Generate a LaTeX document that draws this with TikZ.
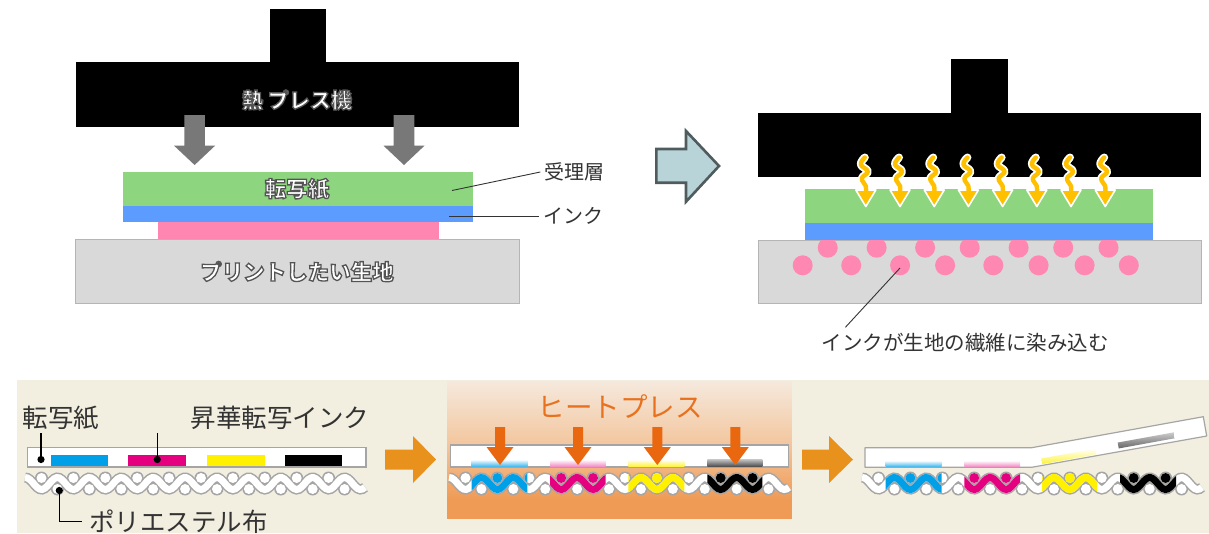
\documentclass[tikz,border=0pt]{standalone}
\usepackage{fontspec}
\setmainfont{Noto Sans CJK JP}
\usetikzlibrary{calc}

\definecolor{pressgray}{HTML}{787878}
\definecolor{papergreen}{HTML}{8DD67F}
\definecolor{inkblue}{HTML}{5C9CFF}
\definecolor{inkpink}{HTML}{FF86B0}
\definecolor{clothgray}{HTML}{D9D9D9}
\definecolor{clothedge}{HTML}{B5B5B5}
\definecolor{stepfill}{HTML}{B9D4D8}
\definecolor{stepedge}{HTML}{4F5B5C}
\definecolor{heatgold}{HTML}{FFC000}
\definecolor{dotpink}{HTML}{FF88B3}
\definecolor{panelbeige}{HTML}{F3EFE0}
\definecolor{flowarrow}{HTML}{E8911C}
\definecolor{pressorange}{HTML}{E8670F}
\definecolor{titleorange}{HTML}{E8711D}
\definecolor{peachtop}{HTML}{F5E9DD}
\definecolor{peachmid}{HTML}{F3C59C}
\definecolor{peachlow}{HTML}{EF9A55}
\definecolor{weavegray}{HTML}{A5A5A5}
\definecolor{cyanink}{HTML}{00A0E9}
\definecolor{magentaink}{HTML}{E4007F}
\definecolor{yellowink}{HTML}{FFF100}
\definecolor{labeltext}{HTML}{333333}

% white lettering with a thin dark outline (fill + stroke text mode)
\newcommand\outlined[1]{%
  \special{pdf:literal direct 2 Tr 1.3 w 0.33 0.33 0.33 RG}#1\special{pdf:literal direct 0 Tr}}

% woven polyester cloth: a wavy thread with round threads above and below
\newcommand\weaveband[4]{%
  \draw[#4] plot[domain=#1:#2, samples=140] (\x,{#3+6*cos(((\x-#1-16.5)/31.9)*360)});}
\newcommand\weavetop[4]{%
  \foreach \k in {0,...,9} \fill[#4] ({#1+16.5+31.9*\k},{#2-5.5}) circle[radius=#3];}
\newcommand\weavebot[4]{%
  \foreach \k in {0,...,9} \fill[#4] ({#1+32.45+31.9*\k},{#2+5.5}) circle[radius=#3];}
\newcommand\weave[3]{%
  \weaveband{#1}{#2}{#3}{draw=weavegray,line width=10}
  \weavetop{#1}{#3}{6.5}{weavegray}
  \weavebot{#1}{#3}{6.5}{weavegray}
  \weaveband{#1}{#2}{#3}{draw=white,line width=7}
  \weavetop{#1}{#3}{5}{white}
  \weavebot{#1}{#3}{5}{white}}
% dye taken up by the cloth between two x positions
\newcommand\weaveink[6]{%
  \begin{scope}
    \clip (#4,460) rectangle (#5,500);
    \weaveband{#1}{#2}{#3}{draw=#6,line width=7}
    \weavetop{#1}{#3}{5}{#6}
  \end{scope}}

\begin{document}
\begin{tikzpicture}[x=1pt,y=-1pt,
  leader/.style={draw=labeltext,line width=0.9pt},
  pointer/.style={draw=black,line width=1.5pt},
  boxlabel/.style={text=white,inner sep=0pt,font=\bfseries\fontsize{21.5}{24}\selectfont},
  sidelabel/.style={text=labeltext,inner sep=0pt,font=\fontsize{20}{24}\selectfont},
  notefont/.style={text=labeltext,inner sep=0pt,font=\fontsize{25.5}{28}\selectfont}]
\useasboundingbox (0,0) rectangle (1209,533);
\fill[white] (0,0) rectangle (1209,533);

% ---------- heat press, before pressing ----------
\fill[black] (269.6,9.3) rectangle (326.4,63);
\fill[black] (75.5,62) rectangle (519,127);
\foreach \cx in {194.6,404} {
  \fill[pressgray] (\cx-10.3,115) -- (\cx+10.3,115) -- (\cx+10.3,145.7) -- (\cx+20.5,145.7)
    -- (\cx,165) -- (\cx-20.5,145.7) -- (\cx-10.3,145.7) -- cycle;
}
\fill[papergreen] (123,171.7) rectangle (472.5,206);
\fill[inkblue] (123,206) rectangle (472.5,222.3);
\fill[inkpink] (158,222.3) rectangle (438.6,239);
\filldraw[fill=clothgray,draw=clothedge,line width=1pt] (75.5,239) rectangle (519,303);

\node[boxlabel,font=\bfseries\fontsize{21}{24}\selectfont] (presslabel) at (297,100) {\outlined{熱 プレス機}};
\node[boxlabel] (paperlabel) at (297,189) {\outlined{転写紙}};
\node[boxlabel] (clothlabel) at (297,271.5) {\outlined{プリントしたい生地}};

\coordinate (coatpt) at (452,190.5);
\coordinate (inkpt) at (449,216);
\node[sidelabel] (coatlabel) at (574.5,172) {受理層};
\node[sidelabel] (inklabel) at (573.5,216) {インク};
\draw[leader] (coatpt) -- ([xshift=-4pt]coatlabel.west);
\draw[leader] (inkpt) -- ([xshift=-4pt]inklabel.west);

% ---------- step arrow ----------
\filldraw[fill=stepfill,draw=stepedge,line width=2.6pt,line join=miter]
  (656.3,149) -- (686,149) -- (686,131) -- (719,166) -- (686,201.7) -- (686,182.7) -- (656.3,182.7) -- cycle;

% ---------- heat press, while pressing ----------
\fill[black] (950.9,59.3) rectangle (1007.7,113);
\fill[black] (758,112.7) rectangle (1201,177);
\filldraw[fill=clothgray,draw=clothedge,line width=1pt] (758.5,240) rectangle (1201,303.5);
\foreach \dx/\dy in {827.7/247.7,876.6/247.7,925.1/247.7,969.7/247.7,1018.6/247.7,1063.2/247.7,1108.5/247.7,
                     802.7/265.3,851.2/265.3,900.1/265.3,945.1/265.3,993.3/265.3,1038.6/265.3,1084.6/265.3,1128.8/265.3}
  \fill[dotpink] (\dx,\dy) circle[radius=10];
\fill[papergreen] (805.2,189.3) rectangle (1153.4,223.3);
\fill[inkblue] (805.2,223.3) rectangle (1153.4,240.2);

% heat waves
\foreach \k in {0,...,7} {
  \pgfmathsetmacro\cx{865.8+34.2*\k}
  \draw[white,line width=8pt,line cap=round,line join=round]
    plot[smooth,tension=0.7] coordinates {(\cx-1,157.5) (\cx-5,164.5) (\cx+2,171.5) (\cx-4,178.5) (\cx,186) (\cx,191)};
  \filldraw[fill=heatgold,draw=white,line width=1.6pt,line join=round]
    (\cx-10,190) -- (\cx+10,190) -- (\cx,206.5) -- cycle;
  \draw[heatgold,line width=4.4pt,line cap=round,line join=round]
    plot[smooth,tension=0.7] coordinates {(\cx-1,157.5) (\cx-5,164.5) (\cx+2,171.5) (\cx-4,178.5) (\cx,186) (\cx,192)};
}

\coordinate (soakpt) at (900,268);
\node[sidelabel,font=\fontsize{20.5}{24}\selectfont] (soaklabel) at (965,343) {インクが生地の繊維に染み込む};
\draw[leader] (soakpt) -- (845.4,327.3);

% ---------- sublimation strip ----------
\fill[panelbeige] (17,380) rectangle (1209,533);

% step 1: paper laid on the cloth
\filldraw[fill=white,draw=weavegray,line width=1.2pt] (27.7,447.7) rectangle (366,467);
\fill[cyanink] (50.7,455.3) rectangle (107.7,466.4);
\fill[magentaink] (127.7,455.3) rectangle (186,466.4);
\fill[yellowink] (206.7,455.3) rectangle (265.3,466.4);
\fill[black] (285.3,455.3) rectangle (342.3,466.4);
\weave{25}{365}{483.5}

\node[notefont] (paperlbl) at (61,418) {転写紙};
\node[notefont] (dyelbl) at (280,418) {昇華転写インク};
\node[notefont,anchor=west] (polylbl) at (89,521.5) {ポリエステル布};
\coordinate (paperdot) at (41,459.5);
\coordinate (dyedot) at (157.3,459.5);
\coordinate (polydot) at (59.3,490.5);
\draw[pointer] ([yshift=-3pt]paperdot |- paperlbl.south) -- (paperdot);
\fill (paperdot) circle[radius=3.6];
\draw[pointer] ([yshift=-3pt]dyedot |- dyelbl.south) -- (dyedot);
\fill (dyedot) circle[radius=3.6];
\draw[pointer] (polydot) -- (polydot |- polylbl.west) -- ([xshift=-7pt]polylbl.west);
\fill (polydot) circle[radius=3.6];

\fill[flowarrow] (385,449.5) -- (413,449.5) -- (413,436) -- (436,459.5) -- (413,483) -- (413,469.5) -- (385,469.5) -- cycle;

% step 2: heat press
\shade[top color=peachtop,bottom color=peachmid] (447,381) rectangle (791.5,446);
\shade[top color=peachmid,bottom color=peachlow] (447,445.5) rectangle (791.5,500);
\fill[peachlow] (447,499.5) rectangle (791.5,518.5);
\node[font=\fontsize{27.5}{30}\selectfont,text=titleorange,inner sep=0pt] (presstitle) at (620,406.5) {ヒートプレス};

\weave{449}{789}{483.5}
\weaveink{449}{789}{483.5}{471.7}{527.3}{cyanink}
\weaveink{449}{789}{483.5}{550}{605.7}{magentaink}
\weaveink{449}{789}{483.5}{628.3}{684.3}{yellowink}
\weaveink{449}{789}{483.5}{707.3}{762.3}{black}
\filldraw[fill=white,draw=weavegray,line width=1.2pt] (450.7,445) rectangle (788.3,467);
\shade[top color=white,bottom color=cyanink!75!white] (471.7,459.5) rectangle (527.3,466.4);
\shade[top color=white,bottom color=magentaink!45!white] (550,459.5) rectangle (605.7,466.4);
\shade[top color=white,bottom color=yellowink!80!white] (628.3,459.5) rectangle (684.3,466.4);
\shade[top color=black!25,bottom color=black!70] (707.3,459.5) rectangle (762.3,466.4);
\foreach \cx in {500,578,657.3,735.3} {
  \fill[pressorange] (\cx-5,427) -- (\cx+5,427) -- (\cx+5,447) -- (\cx+13.5,447) -- (\cx,465)
    -- (\cx-13.5,447) -- (\cx-5,447) -- cycle;
}

\fill[flowarrow] (802,449.5) -- (829,449.5) -- (829,436) -- (853,459.5) -- (829,483) -- (829,469.5) -- (802,469.5) -- cycle;

% step 3: peeling the paper off
\weave{862}{1202}{483.5}
\weaveink{862}{1202}{483.5}{885.7}{941.7}{cyanink}
\weaveink{862}{1202}{483.5}{964.3}{1020}{magentaink}
\weaveink{862}{1202}{483.5}{1042}{1097}{yellowink}
\weaveink{862}{1202}{483.5}{1120}{1176}{black}
\filldraw[fill=white,draw=weavegray,line width=1.2pt,line join=round]
  (865,447.7) -- (1031.7,447.7) -- (1203.3,416.7) -- (1206.7,436) -- (1031.7,467.3) -- (865,467.3) -- cycle;
\shade[top color=white,bottom color=cyanink!75!white] (885.7,460.5) rectangle (941.7,466.5);
\shade[top color=white,bottom color=magentaink!45!white] (964.3,460.5) rectangle (1020,466.5);
\begin{scope}[shift={(1031.7,467.3)},rotate=10.3]
  \shade[top color=white,bottom color=yellowink!80!white] (11,-7) rectangle (66,-1.2);
  \shade[top color=black!20,bottom color=black!60] (89,-9) rectangle (146,-3);
\end{scope}
\end{tikzpicture}
\end{document}
